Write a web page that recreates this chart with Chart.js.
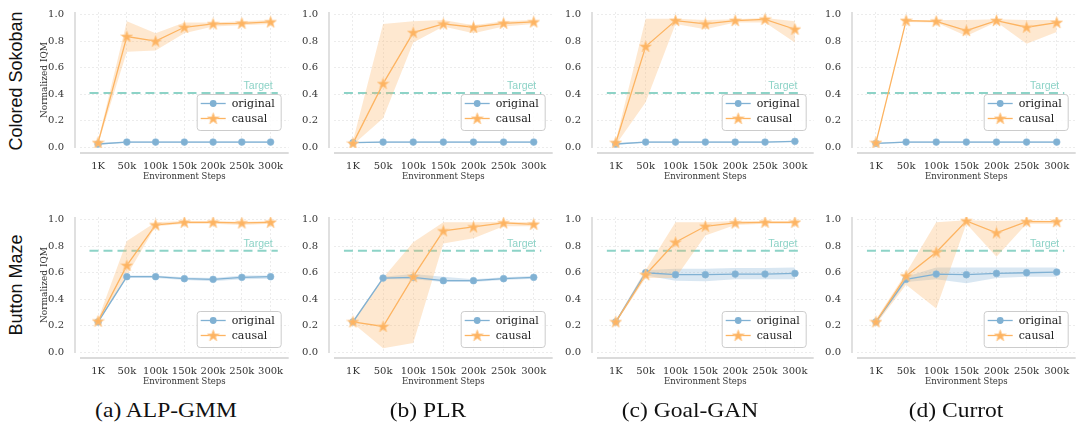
<!DOCTYPE html>
<html>
<head>
<meta charset="utf-8">
<script src="https://cdn.jsdelivr.net/npm/chart.js@4.4.1/dist/chart.umd.min.js"></script>
<style>
  body { margin: 0; width: 1077px; height: 423px; overflow: hidden; background: #fff; position: relative; }
  .panel { position: absolute; }
  .row-label {
    position: absolute; font-family: 'Liberation Sans', Arial, sans-serif; font-size: 18px;
    color: #111; white-space: nowrap; transform: translate(-50%, -50%) rotate(-90deg);
  }
  .caption {
    position: absolute; font-family: 'Liberation Serif', 'Times New Roman', serif; font-size: 21px;
    line-height: 21px; color: #111; white-space: nowrap; transform: translateX(-50%) scaleX(1.12);
  }
</style>
</head>
<body>
<script>
// x ticks / panel names
const steps = ['1K', '50k', '100k', '150k', '200k', '250k', '300k'];
const methods = ['(a) ALP-GMM', '(b) PLR', '(c) Goal-GAN', '(d) Currot'];
const envs = ['Colored Sokoban', 'Button Maze'];
const targets = [0.41, 0.765];
const yTicks = [0, 0.2, 0.4, 0.6, 0.8, 1.0];

// Colored Sokoban, one row per method (ALP-GMM, PLR, Goal-GAN, Currot)
const sokobanOrig = [
  [0.025, 0.04, 0.04, 0.04, 0.04, 0.04, 0.04],
  [0.035, 0.04, 0.04, 0.04, 0.04, 0.04, 0.04],
  [0.025, 0.04, 0.04, 0.04, 0.04, 0.04, 0.045],
  [0.03, 0.04, 0.04, 0.04, 0.04, 0.04, 0.04]
];
const sokobanOrigLo = [
  [0.02, 0.035, 0.035, 0.035, 0.035, 0.035, 0.035],
  [0.03, 0.035, 0.035, 0.035, 0.035, 0.035, 0.035],
  [0.02, 0.035, 0.035, 0.035, 0.035, 0.035, 0.04],
  [0.025, 0.035, 0.035, 0.035, 0.035, 0.035, 0.035]
];
const sokobanOrigHi = [
  [0.03, 0.045, 0.045, 0.045, 0.045, 0.045, 0.045],
  [0.04, 0.045, 0.045, 0.045, 0.045, 0.045, 0.045],
  [0.03, 0.045, 0.045, 0.045, 0.045, 0.045, 0.05],
  [0.035, 0.045, 0.045, 0.045, 0.045, 0.045, 0.045]
];
const sokobanCausal = [
  [0.035, 0.835, 0.80, 0.905, 0.93, 0.935, 0.945],
  [0.03, 0.48, 0.865, 0.93, 0.905, 0.935, 0.945],
  [0.035, 0.76, 0.955, 0.93, 0.955, 0.965, 0.89],
  [0.035, 0.955, 0.95, 0.88, 0.955, 0.905, 0.94]
];
const sokobanCausalLo = [
  [0.025, 0.72, 0.73, 0.86, 0.91, 0.92, 0.93],
  [0.02, 0.22, 0.79, 0.91, 0.86, 0.91, 0.93],
  [0.02, 0.34, 0.93, 0.89, 0.94, 0.94, 0.79],
  [0.03, 0.945, 0.94, 0.84, 0.945, 0.78, 0.87]
];
const sokobanCausalHi = [
  [0.05, 0.95, 0.86, 0.94, 0.94, 0.95, 0.96],
  [0.05, 0.93, 0.95, 0.96, 0.92, 0.95, 0.96],
  [0.05, 0.97, 0.97, 0.96, 0.965, 0.975, 0.95],
  [0.04, 0.96, 0.96, 0.96, 0.965, 0.96, 0.96]
];

// Button Maze
const mazeOrig = [
  [0.23, 0.57, 0.57, 0.555, 0.55, 0.565, 0.57],
  [0.23, 0.56, 0.565, 0.54, 0.54, 0.555, 0.565],
  [0.23, 0.60, 0.585, 0.585, 0.59, 0.59, 0.595],
  [0.23, 0.55, 0.59, 0.585, 0.595, 0.60, 0.605]
];
const mazeOrigLo = [
  [0.22, 0.56, 0.56, 0.545, 0.535, 0.55, 0.555],
  [0.22, 0.55, 0.55, 0.53, 0.53, 0.545, 0.555],
  [0.22, 0.58, 0.54, 0.535, 0.55, 0.55, 0.55],
  [0.22, 0.53, 0.55, 0.52, 0.56, 0.57, 0.57]
];
const mazeOrigHi = [
  [0.24, 0.58, 0.58, 0.565, 0.56, 0.58, 0.58],
  [0.24, 0.57, 0.59, 0.57, 0.55, 0.565, 0.575],
  [0.24, 0.62, 0.63, 0.63, 0.635, 0.635, 0.64],
  [0.24, 0.57, 0.64, 0.64, 0.64, 0.64, 0.64]
];
const mazeCausal = [
  [0.235, 0.655, 0.96, 0.98, 0.98, 0.975, 0.98],
  [0.23, 0.195, 0.57, 0.915, 0.945, 0.975, 0.965],
  [0.23, 0.585, 0.83, 0.95, 0.975, 0.98, 0.98],
  [0.23, 0.575, 0.755, 0.99, 0.90, 0.985, 0.985]
];
const mazeCausalLo = [
  [0.22, 0.58, 0.95, 0.97, 0.97, 0.96, 0.97],
  [0.22, 0.03, 0.07, 0.82, 0.86, 0.95, 0.95],
  [0.22, 0.56, 0.56, 0.88, 0.96, 0.97, 0.97],
  [0.21, 0.51, 0.33, 0.97, 0.72, 0.97, 0.97]
];
const mazeCausalHi = [
  [0.25, 0.84, 0.98, 0.99, 0.99, 0.985, 0.99],
  [0.24, 0.56, 0.83, 0.98, 0.98, 0.985, 0.98],
  [0.24, 0.62, 0.98, 0.98, 0.99, 0.99, 0.99],
  [0.25, 0.60, 0.98, 0.995, 0.99, 0.995, 0.99]
];

const BLUE = '#80b1d3';
const ORANGE = '#fdb462';
const TEAL = '#8dd3c7';

// layout of the 2x4 grid (plot areas)
const colLeft = [80, 334, 597, 857];
const colWidth = [214, 224, 222, 224];
const rowTop = [12, 217];
const plotH = 136;
const Y_W = 41, X_H = 34, PAD_T = 10, PAD_R = 2;
const legendGap = [18, 6];
const captionX = [166, 428, 690, 956];
const rowLabelY = [81, 285];

// matplotlib-like filled star marker
function makeStar(size) {
  const c = document.createElement('canvas');
  c.width = c.height = size;
  const g = c.getContext('2d');
  const cx = size / 2, cy = size / 2 + 0.4, R = size / 2 - 0.4, r = R * 0.4;
  g.beginPath();
  for (let i = 0; i < 10; i++) {
    const rad = i % 2 ? r : R;
    const a = -Math.PI / 2 + i * Math.PI / 5;
    g.lineTo(cx + rad * Math.cos(a), cy + rad * Math.sin(a));
  }
  g.closePath();
  g.fillStyle = ORANGE;
  g.fill();
  g.strokeStyle = '#fec88c';
  g.lineWidth = 0.8;
  g.stroke();
  return c;
}
const star = makeStar(13);

// offset spines, "Target" text and the boxed legend
const decor = {
  id: 'decor',
  afterDatasetsDraw(chart, args, opts) {
    const { ctx, chartArea: a } = chart;
    ctx.save();
    ctx.strokeStyle = '#d0d0d0';
    ctx.lineWidth = 1.3;
    ctx.beginPath();
    ctx.moveTo(a.left - 5, a.top);
    ctx.lineTo(a.left - 5, a.bottom);
    ctx.moveTo(a.left, a.bottom + 5);
    ctx.lineTo(a.right, a.bottom + 5);
    ctx.stroke();

    const tp = chart.getDatasetMeta(opts.targetIndex).data;
    const end = tp[tp.length - 1];
    ctx.font = '10.5px "Liberation Sans", Arial, sans-serif';
    ctx.fillStyle = TEAL;
    ctx.textAlign = 'right';
    ctx.textBaseline = 'alphabetic';
    ctx.fillText('Target', end.x - 5, end.y - 4);

    // legend box
    const w = 84, h = 36;
    const x0 = a.right - 8 - w;
    const y0 = a.bottom - opts.gap - h;
    ctx.beginPath();
    ctx.roundRect(x0 + 0.5, y0 + 0.5, w, h, 3);
    ctx.fillStyle = 'rgba(255,255,255,0.85)';
    ctx.fill();
    ctx.strokeStyle = '#cccccc';
    ctx.lineWidth = 1;
    ctx.stroke();
    const items = [
      { label: 'original', color: BLUE, marker: 'circle' },
      { label: 'causal', color: ORANGE, marker: 'star' }
    ];
    items.forEach((it, i) => {
      const y = y0 + 9.5 + i * 15;
      ctx.strokeStyle = it.color;
      ctx.lineWidth = 1.3;
      ctx.beginPath();
      ctx.moveTo(x0 + 4, y);
      ctx.lineTo(x0 + 29, y);
      ctx.stroke();
      if (it.marker === 'circle') {
        ctx.beginPath();
        ctx.arc(x0 + 16.5, y, 3.4, 0, Math.PI * 2);
        ctx.fillStyle = BLUE;
        ctx.fill();
      } else {
        ctx.drawImage(star, x0 + 16.5 - star.width / 2, y - star.height / 2);
      }
      ctx.font = '11px "DejaVu Serif", serif';
      ctx.fillStyle = '#222';
      ctx.textAlign = 'left';
      ctx.textBaseline = 'middle';
      ctx.fillText(it.label, x0 + 35, y + 0.5);
    });
    ctx.restore();
  }
};

const pts = arr => arr.map((v, i) => ({ x: i, y: v }));
const tickFont = { family: 'DejaVu Serif', size: 10 };

function addText(cls, text, style) {
  const d = document.createElement('div');
  d.className = cls;
  d.textContent = text;
  Object.assign(d.style, style);
  document.body.appendChild(d);
}

for (let r = 0; r < 2; r++) {
  addText('row-label', envs[r], { left: '16px', top: rowLabelY[r] + 'px' });
  for (let c = 0; c < 4; c++) {
    const orig = [sokobanOrig, mazeOrig][r][c];
    const origLo = [sokobanOrigLo, mazeOrigLo][r][c];
    const origHi = [sokobanOrigHi, mazeOrigHi][r][c];
    const causal = [sokobanCausal, mazeCausal][r][c];
    const causalLo = [sokobanCausalLo, mazeCausalLo][r][c];
    const causalHi = [sokobanCausalHi, mazeCausalHi][r][c];

    const w = Y_W + colWidth[c] + PAD_R;
    const h = PAD_T + plotH + X_H;
    const holder = document.createElement('div');
    holder.className = 'panel';
    holder.style.left = (colLeft[c] - Y_W) + 'px';
    holder.style.top = (rowTop[r] - PAD_T) + 'px';
    const cv = document.createElement('canvas');
    cv.width = w;
    cv.height = h;
    holder.appendChild(cv);
    document.body.appendChild(holder);

    new Chart(cv.getContext('2d'), {
      type: 'line',
      data: {
        datasets: [
          {
            label: 'causal', data: pts(causal), borderColor: ORANGE, borderWidth: 1.3,
            pointStyle: star, pointRadius: 6, fill: false
          },
          {
            label: 'original', data: pts(orig), borderColor: BLUE, backgroundColor: BLUE,
            pointBackgroundColor: BLUE, pointBorderColor: '#8dbada', pointBorderWidth: 0.6,
            pointRadius: 3.4, borderWidth: 1.3, fill: false
          },
          {
            data: pts(causalHi), borderWidth: 0, pointRadius: 0, fill: '+1',
            backgroundColor: 'rgba(253,180,98,0.3)'
          },
          { data: pts(causalLo), borderWidth: 0, pointRadius: 0, fill: false },
          {
            data: pts(origHi), borderWidth: 0, pointRadius: 0, fill: '+1',
            backgroundColor: 'rgba(128,177,211,0.3)'
          },
          { data: pts(origLo), borderWidth: 0, pointRadius: 0, fill: false },
          {
            data: [{ x: -0.3, y: targets[r] }, { x: 6.25, y: targets[r] }],
            borderColor: TEAL, borderWidth: 2, borderDash: [9, 5], pointRadius: 0, fill: false
          }
        ]
      },
      options: {
        responsive: false,
        animation: false,
        events: [],
        layout: { padding: { top: PAD_T, right: PAD_R, left: 0, bottom: 0 } },
        plugins: {
          legend: { display: false },
          tooltip: { enabled: false },
          decor: { targetIndex: 6, gap: legendGap[r] }
        },
        scales: {
          x: {
            type: 'linear',
            min: -0.63,
            max: 6.63,
            afterBuildTicks: s => { s.ticks = steps.map((_, i) => ({ value: i })); },
            afterFit: s => { s.height = X_H; s.paddingLeft = 0; s.paddingRight = 0; },
            ticks: {
              callback: v => steps[v],
              font: tickFont, color: '#333', padding: 12, maxRotation: 0, autoSkip: false
            },
            grid: { color: '#ececec', drawTicks: false },
            border: { display: false, dash: [2, 2] },
            title: {
              display: true, text: 'Environment Steps', color: '#333', padding: 0,
              font: { family: 'DejaVu Serif', size: 8.5 }
            }
          },
          y: {
            min: -0.005,
            max: 1.02,
            afterBuildTicks: s => { s.ticks = yTicks.map(v => ({ value: v })); },
            // tick padding would otherwise push the plot area down
            afterFit: s => { s.width = Y_W; s.paddingTop = 0; s.paddingBottom = 0; },
            ticks: { callback: v => v.toFixed(1), font: tickFont, color: '#333', padding: 16 },
            grid: { color: '#ececec', drawTicks: false },
            border: { display: false, dash: [2, 2] },
            title: {
              display: c === 0, text: 'Normalized IQM', color: '#333', padding: 0,
              font: { family: 'DejaVu Serif', size: 9 }
            }
          }
        }
      },
      plugins: [decor]
    });
  }
}

methods.forEach((m, c) => addText('caption', m, { left: captionX[c] + 'px', top: '400px' }));
</script>
</body>
</html>
